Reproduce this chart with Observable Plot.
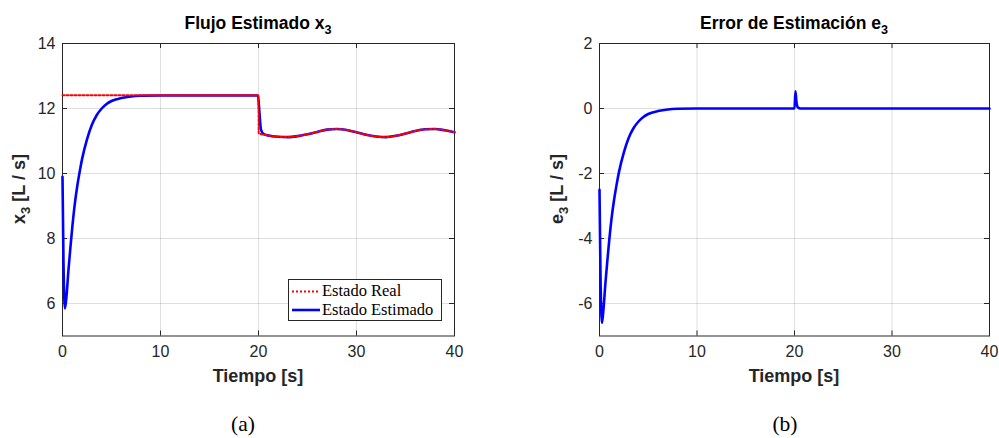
<!DOCTYPE html>
<html>
<head>
<meta charset="utf-8">
<script src="https://cdn.jsdelivr.net/npm/d3@7"></script>
<script src="https://cdn.jsdelivr.net/npm/@observablehq/plot@0.6"></script>
<style>
  html, body { margin: 0; padding: 0; background: #fff; }
  #root { position: relative; width: 999px; height: 438px; background: #fff; overflow: hidden; font-family: "Liberation Sans", Arial, sans-serif; color: #262626; }
  .abs { position: absolute; white-space: nowrap; line-height: 1; }
  .title { font-weight: bold; font-size: 17.5px; color: #000; transform: translateX(-50%); }
  .xlabel { font-weight: bold; font-size: 18px; color: #262626; transform: translateX(-50%); }
  .ylabel { font-weight: bold; font-size: 18px; color: #262626; transform: translate(-50%, -50%) rotate(-90deg); }
  .sub { font-size: 0.72em; position: relative; top: 0.38em; }
  .cap { font-family: "Liberation Serif", "Times New Roman", serif; font-size: 21.5px; color: #000; transform: translateX(-50%); }
  .legend { border: 1px solid #262626; background: #fff; box-sizing: border-box; font-family: "Liberation Serif", serif; font-size: 16.5px; color: #000; }
</style>
</head>
<body>
<div id="root"></div>
<script>
// ---------- data ----------
const xTicks = [0, 10, 20, 30, 40];
const yTicksA = [6, 8, 10, 12, 14];
const yTicksB = [-6, -4, -2, 0, 2];

// Estado Real (x3)
const realT = [0, 5, 10, 15, 20, 20.02, 21, 22, 23, 24, 25, 26, 27, 28, 29, 30, 31, 32, 33, 34, 35, 36, 37, 38, 39, 40];
const realV = [12.41, 12.41, 12.41, 12.41, 12.41, 11.24, 11.17, 11.13, 11.12, 11.15, 11.21, 11.28, 11.35, 11.37, 11.34, 11.27, 11.19, 11.14, 11.12, 11.16, 11.23, 11.31, 11.36, 11.37, 11.33, 11.27];

// Estado Estimado (x3 hat)
const estT = [0, 0.1, 0.25, 0.4, 0.6, 0.8, 1.0, 1.25, 1.5, 1.75, 2.0, 2.5, 3.0, 3.5, 4.0, 4.5, 5, 6, 7, 8, 10, 15, 19.95, 20.1, 20.25, 20.5, 21, 22, 23, 24, 25, 26, 27, 28, 29, 30, 31, 32, 33, 34, 35, 36, 37, 38, 39, 40];
const estV = [9.9, 7.3, 5.85, 6.2, 7.0, 7.7, 8.35, 9.05, 9.6, 10.05, 10.45, 11.05, 11.5, 11.8, 12.0, 12.14, 12.23, 12.32, 12.37, 12.39, 12.4, 12.4, 12.4, 11.85, 11.35, 11.22, 11.17, 11.13, 11.12, 11.15, 11.21, 11.28, 11.35, 11.37, 11.34, 11.27, 11.19, 11.14, 11.12, 11.16, 11.23, 11.31, 11.36, 11.37, 11.33, 11.27];

// Error de estimación e3
const errT = [0, 0.1, 0.25, 0.4, 0.6, 0.8, 1.0, 1.25, 1.5, 1.75, 2.0, 2.5, 3.0, 3.5, 4.0, 4.5, 5, 6, 7, 8, 10, 15, 20.0, 20.1, 20.2, 20.35, 20.6, 25, 30, 35, 40];
const errV = [-2.5, -5.1, -6.6, -6.2, -5.4, -4.7, -4.05, -3.35, -2.8, -2.35, -1.95, -1.35, -0.9, -0.6, -0.4, -0.26, -0.17, -0.08, -0.03, -0.01, 0, 0, 0, 0.53, 0.2, 0.03, 0, 0, 0, 0, 0];

const realData = realT.map((t, i) => ({t, v: realV[i]}));
const estData = estT.map((t, i) => ({t, v: estV[i]}));
const errData = errT.map((t, i) => ({t, v: errV[i]}));

// ---------- helpers ----------
const AX = "#262626";
function panel({width, height, ml, mr, mt, mb, yDomain, yTicks, lines}) {
  const fh = height - mt - mb, fw = width - ml - mr, tl = 5;
  return Plot.plot({
    width, height, marginLeft: ml, marginRight: mr, marginTop: mt, marginBottom: mb,
    x: {domain: [0, 40]},
    y: {domain: yDomain},
    style: {fontFamily: "Liberation Sans, Arial, sans-serif", fontSize: "16px", color: AX, background: "transparent", overflow: "visible"},
    marks: [
      Plot.gridX(xTicks, {stroke: AX, strokeOpacity: 0.15}),
      Plot.gridY(yTicks, {stroke: AX, strokeOpacity: 0.15}),
      Plot.frame({stroke: AX, strokeWidth: 1}),
      Plot.tickX(xTicks, {x: d => d, stroke: AX, insetTop: fh - tl}),
      Plot.tickX(xTicks, {x: d => d, stroke: AX, insetBottom: fh - tl}),
      Plot.tickY(yTicks, {y: d => d, stroke: AX, insetRight: fw - tl}),
      Plot.tickY(yTicks, {y: d => d, stroke: AX, insetLeft: fw - tl}),
      Plot.axisX(xTicks, {tickSize: 0, tickPadding: 10, label: null, tickFormat: d => String(d), fill: AX}),
      Plot.axisY(yTicks, {tickSize: 0, tickPadding: 7, label: null, tickFormat: d => String(d), fill: AX}),
      ...lines
    ]
  });
}

const root = document.getElementById("root");

const left = panel({
  width: 500, height: 400, ml: 62, mr: 46, mt: 43, mb: 64.5,
  yDomain: [5, 14], yTicks: yTicksA,
  lines: [
    Plot.line(estData, {x: "t", y: "v", stroke: "#0000ff", strokeWidth: 2.6, curve: "monotone-x"}),
    Plot.line(realData, {x: "t", y: "v", stroke: "#ff0000", strokeWidth: 2, strokeDasharray: "2,2", curve: "monotone-x"})
  ]
});
left.style.position = "absolute"; left.style.left = "0px"; left.style.top = "0px";
root.appendChild(left);

const right = panel({
  width: 499, height: 400, ml: 99, mr: 10, mt: 43, mb: 64.5,
  yDomain: [-7, 2], yTicks: yTicksB,
  lines: [
    Plot.line(errData, {x: "t", y: "v", stroke: "#0000ff", strokeWidth: 2.6, curve: "monotone-x"})
  ]
});
right.style.position = "absolute"; right.style.left = "500px"; right.style.top = "0px";
root.appendChild(right);

// ---------- text ----------
function addDiv(cls, html, css) {
  const d = document.createElement("div");
  d.className = "abs " + cls;
  d.innerHTML = html;
  Object.assign(d.style, css);
  root.appendChild(d);
  return d;
}
addDiv("title", 'Flujo Estimado x<span class="sub">3</span>', {left: "258px", top: "15px"});
addDiv("title", 'Error de Estimación e<span class="sub">3</span>', {left: "794px", top: "15px"});
addDiv("xlabel", 'Tiempo [s]', {left: "258px", top: "367px"});
addDiv("xlabel", 'Tiempo [s]', {left: "794px", top: "367px"});
addDiv("ylabel", 'x<span class="sub">3</span> [L / s]', {left: "19px", top: "189px"});
addDiv("ylabel", 'e<span class="sub">3</span> [L / s]', {left: "557px", top: "189px"});
addDiv("cap", '(a)', {left: "243px", top: "414px"});
addDiv("cap", '(b)', {left: "785px", top: "414px"});

// legend
const leg = addDiv("legend", "", {left: "288px", top: "279px", width: "154px", height: "42px"});
leg.innerHTML = `
  <svg width="30" height="40" style="position:absolute;left:3px;top:0px">
    <line x1="0" x2="28" y1="11.5" y2="11.5" stroke="#ff0000" stroke-width="2" stroke-dasharray="2,2"/>
    <line x1="0" x2="28" y1="30" y2="30" stroke="#0000ff" stroke-width="2.6"/>
  </svg>
  <div style="position:absolute;left:33px;top:3px;line-height:1">Estado Real</div>
  <div style="position:absolute;left:33px;top:21.5px;line-height:1">Estado Estimado</div>`;
</script>
</body>
</html>
